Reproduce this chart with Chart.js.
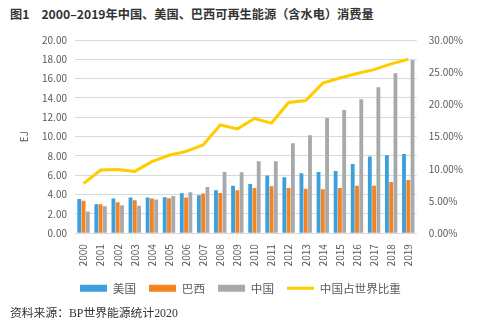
<!DOCTYPE html>
<html>
<head>
<meta charset="utf-8">
<script src="https://cdn.jsdelivr.net/npm/chart.js@4"></script>
<style>
  body { margin: 0; background: #fff; font-family: "Noto Sans CJK SC", sans-serif; }
  #wrap { position: relative; width: 477px; height: 333px; }
  #title { position: absolute; left: 10px; top: 5px; font-size: 12.2px; font-weight: bold; color: #333; white-space: nowrap; }
  #title span { margin-left: 12px; }
  #src { position: absolute; left: 10px; top: 303px; font-size: 11.8px; color: #333; white-space: nowrap;
         font-family: "Liberation Serif", "Noto Sans CJK SC", serif; }
  #box { position: absolute; left: 0; top: 26px; width: 477px; height: 278px; }
</style>
</head>
<body>
<div id="wrap">
  <div id="title">图1<span>2000–2019年中国、美国、巴西可再生能源（含水电）消费量</span></div>
  <div id="box"><canvas id="grafico"></canvas></div>
  <div id="src">资料来源：BP世界能源统计2020</div>
</div>
<script>
const anios = ['2000', '2001', '2002', '2003', '2004', '2005', '2006', '2007', '2008', '2009',
  '2010', '2011', '2012', '2013', '2014', '2015', '2016', '2017', '2018', '2019'];
const usa = [3.55, 3.0, 3.6, 3.7, 3.7, 3.72, 4.14, 3.93, 4.45, 4.9, 5.1, 5.97, 5.79, 6.2, 6.34, 6.45, 7.17, 7.93, 8.07, 8.2];
const brasil = [3.35, 3.0, 3.2, 3.4, 3.6, 3.62, 3.69, 4.1, 4.17, 4.45, 4.69, 4.86, 4.69, 4.59, 4.55, 4.69, 4.9, 4.9, 5.31, 5.52];
const china = [2.25, 2.8, 2.9, 2.85, 3.5, 3.86, 4.24, 4.79, 6.34, 6.31, 7.45, 7.45, 9.31, 10.14, 11.93, 12.76, 13.86, 15.1, 16.55, 17.93];
const cuota = [7.7, 9.8, 9.9, 9.6, 11.1, 12.1, 12.7, 13.7, 16.8, 16.2, 17.8, 17.1, 20.3, 20.6, 23.3, 24.1, 24.8, 25.4, 26.3, 27.0];

const gris = '#595959';
const fuente = { family: '"Noto Sans CJK SC", sans-serif', size: 10 };

new Chart(document.getElementById('grafico'), {
  data: {
    labels: anios,
    datasets: [
      { type: 'line', label: '中国占世界比重', data: cuota, yAxisID: 'y2',
        borderColor: '#FFCC00', backgroundColor: '#FFCC00', borderWidth: 3,
        pointRadius: 0, pointStyle: 'line', tension: 0, order: 0 },
      { type: 'bar', label: '美国', data: usa, backgroundColor: '#3D9FDC', pointStyle: 'rect', order: 1 },
      { type: 'bar', label: '巴西', data: brasil, backgroundColor: '#F5831F', pointStyle: 'rect', order: 1 },
      { type: 'bar', label: '中国', data: china, backgroundColor: '#A6AAAD', pointStyle: 'rect', order: 1 }
    ]
  },
  options: {
    responsive: true,
    maintainAspectRatio: false,
    animation: false,
    datasets: { bar: { categoryPercentage: 0.75, barPercentage: 0.9 } },
    layout: { padding: { left: 14, right: 10, top: 8, bottom: 0 } },
    plugins: {
      tooltip: { enabled: false },
      legend: {
        position: 'bottom',
        labels: {
          usePointStyle: true,
          pointStyleWidth: 27,
          boxHeight: 7,
          padding: 13,
          color: gris,
          font: { family: fuente.family, size: 11.6 },
          sort: (a, b) => (a.datasetIndex === 0) - (b.datasetIndex === 0) || a.datasetIndex - b.datasetIndex
        }
      }
    },
    scales: {
      x: {
        grid: { display: false },
        border: { display: false },
        ticks: { color: gris, font: fuente, minRotation: 90, maxRotation: 90 }
      },
      y: {
        min: 0, max: 20,
        grid: { color: '#D9D9D9', drawTicks: false },
        border: { display: false },
        title: { display: true, text: 'EJ', color: gris, font: fuente },
        ticks: { color: gris, font: fuente, stepSize: 2, padding: 8, callback: v => v.toFixed(2) }
      },
      y2: {
        position: 'right',
        min: 0, max: 30,
        grid: { display: false },
        border: { display: false },
        ticks: { color: gris, font: fuente, stepSize: 5, padding: 4, callback: v => v.toFixed(2) + '%' }
      }
    }
  }
});
</script>
</body>
</html>
